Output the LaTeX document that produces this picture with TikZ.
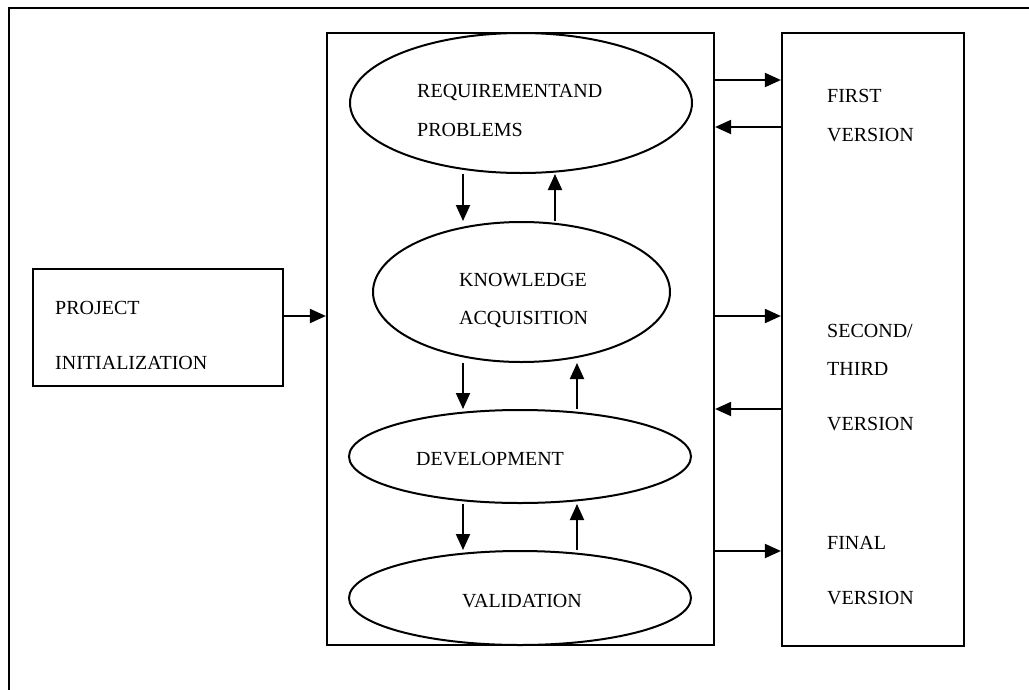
\documentclass[tikz,border=0pt]{standalone}
\usepackage{fontspec}
\setmainfont{Liberation Serif}
\usetikzlibrary{shapes.geometric,arrows.meta}
\begin{document}
\begin{tikzpicture}[x=1pt,y=-1pt,
  box/.style={draw, rectangle, line width=2.2pt, inner sep=0pt},
  stage/.style={draw, ellipse, line width=2pt, inner sep=0pt},
  lbl/.style={anchor=base west, inner sep=0pt, font=\fontsize{20}{24}\selectfont},
  arr/.style={line width=2pt, -{Triangle[length=16pt,width=14pt]}}]
\useasboundingbox (0,0) rectangle (1029,689);

% outer frame (runs off the right and bottom edges)
\draw[line width=2.2pt] (9,700) -- (9,8) -- (1040,8);

% boxes
\node[box, minimum width=250pt, minimum height=117pt] (proj) at (158,327.5) {};
\node[box, minimum width=387pt, minimum height=612pt] (mid) at (520.5,339) {};
\node[box, minimum width=182pt, minimum height=613pt] (ver) at (873,339.5) {};

% stages inside the central box
\node[stage, minimum width=342pt, minimum height=140pt] (req) at (521,103) {};
\node[stage, minimum width=297pt, minimum height=140pt] (kn)  at (521.5,292) {};
\node[stage, minimum width=342pt, minimum height=93pt]  (dev) at (520,456.5) {};
\node[stage, minimum width=342pt, minimum height=94pt]  (val) at (520,598) {};

% labels
\node[lbl] (pj1) at (55,314.6) {PROJECT};
\node[lbl] (pj2) at (55,369.6) {INITIALIZATION};
\node[lbl] (rq1) at (417,97.6) {REQUIREMENTAND};
\node[lbl] (rq2) at (417,136.6) {PROBLEMS};
\node[lbl] (kn1) at (459,286.6) {KNOWLEDGE};
\node[lbl] (kn2) at (459,324.6) {ACQUISITION};
\node[lbl] (dv1) at (416,465.6) {DEVELOPMENT};
\node[lbl] (vl1) at (462,607.6) {VALIDATION};
\node[lbl] (fv1) at (827,102.6) {FIRST};
\node[lbl] (fv2) at (827,141.6) {VERSION};
\node[lbl] (sv1) at (827,337.6) {SECOND/};
\node[lbl] (sv2) at (827,375.6) {THIRD};
\node[lbl] (sv3) at (827,430.6) {VERSION};
\node[lbl] (nv1) at (827,549.6) {FINAL};
\node[lbl] (nv2) at (827,604.6) {VERSION};

% guide positions for the connectors
\coordinate (xdown) at (463,0);
\coordinate (xup1) at (555,0);
\coordinate (xup2) at (577,0);
\coordinate (yin) at (0,316);
\coordinate (yf1) at (0,80);
\coordinate (yb1) at (0,127);
\coordinate (yf2) at (0,316);
\coordinate (yb2) at (0,409);
\coordinate (yf3) at (0,551);

% project start
\draw[arr] (proj.east |- yin) -- (mid.west |- yin);

% stage feedback loops
\draw[arr] (req.south -| xdown) -- (kn.north -| xdown);
\draw[arr] (kn.north -| xup1) -- (req.south -| xup1);
\draw[arr] (kn.south -| xdown) -- (dev.north -| xdown);
\draw[arr] (dev.north -| xup2) -- (kn.south -| xup2);
\draw[arr] (dev.south -| xdown) -- (val.north -| xdown);
\draw[arr] (val.north -| xup2) -- (dev.south -| xup2);

% releases and feedback
\draw[arr] (mid.east |- yf1) -- (ver.west |- yf1);
\draw[arr] (ver.west |- yb1) -- (mid.east |- yb1);
\draw[arr] (mid.east |- yf2) -- (ver.west |- yf2);
\draw[arr] (ver.west |- yb2) -- (mid.east |- yb2);
\draw[arr] (mid.east |- yf3) -- (ver.west |- yf3);
\end{tikzpicture}
\end{document}
